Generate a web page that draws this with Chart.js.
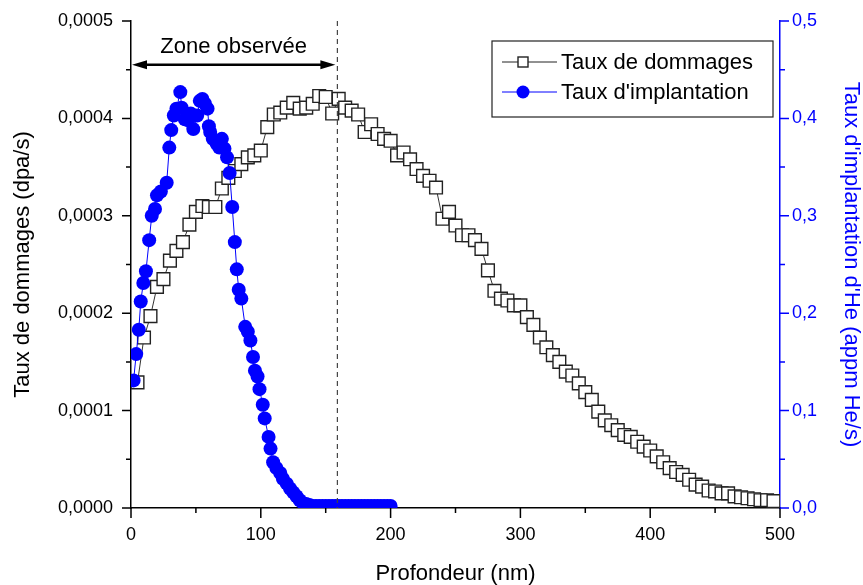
<!DOCTYPE html>
<html>
<head>
<meta charset="utf-8">
<script src="https://cdn.jsdelivr.net/npm/chart.js@4.4.1/dist/chart.umd.min.js"></script>
<style>
  html, body { margin: 0; padding: 0; background: #fff; }
  #wrap { width: 863px; height: 585px; }
</style>
</head>
<body>
<div id="wrap"><canvas id="chart"></canvas></div>
<script>
// profondeur (nm) et taux de dommages (dpa/s)
var depthDmg = [5,10,15,20,25,30,35,40,45,50,55,60,65,70,75,80,85,90,95,100,
    105,110,115,120,125,130,135,140,145,150,155,160,165,170,175,180,185,190,195,200,
    205,210,215,220,225,230,235,240,245,250,255,260,265,270,275,280,285,290,295,300,
    305,310,315,320,325,330,335,340,345,350,355,360,365,370,375,380,385,390,395,400,
    405,410,415,420,425,430,435,440,445,450,455,460,465,470,475,480,485,490,495];
var dmgRate = [0.000129,0.000175,0.000197,0.000227,0.000235,0.000254,0.000264,0.000273,0.000291,0.000304,
    0.000310,0.000309,0.000309,0.000328,0.000339,0.000346,0.000353,0.000360,0.000362,0.000367,
    0.000391,0.000404,0.000406,0.000411,0.000416,0.000410,0.000411,0.000415,0.000423,0.000422,
    0.000405,0.000420,0.000411,0.000408,0.000404,0.000386,0.000394,0.000384,0.000379,0.000377,
    0.000362,0.000365,0.000358,0.000348,0.000341,0.000336,0.000329,0.000297,0.000304,0.000290,
    0.000280,0.000280,0.000275,0.000266,0.000244,0.000223,0.000215,0.000213,0.000208,0.000208,
    0.000196,0.000188,0.000175,0.000165,0.000157,0.000150,0.000140,0.000136,0.000128,0.000119,
    0.000111,0.000099,0.000090,0.000085,0.000080,0.000075,0.000073,0.000068,0.000063,0.000059,
    0.000053,0.000047,0.000041,0.000037,0.000034,0.000029,0.000024,0.000022,0.000018,0.000017,
    0.000015,0.000015,0.000012,0.000011,0.000010,0.000009,0.000008,0.000008,0.000007];

// profondeur (nm) et taux d'implantation d'He (appm He/s)
var depthImp = [2,4,6,7.5,9.5,11.5,14,16,18.5,20,23,27.5,29.5,31,33,35,38,39,41.5,44,
    46,48,51,53,55,57,59,60,61,63,66,68,70,72,74,76,78,80,81.5,83,
    85,88,90,92,94,95.5,97.5,99,101.5,103,106,107.5,109.5,112,115,117,120,122.5,125,127.5,
    130,132.5,135,137.5,140,142.5,145,147.5,150,152.5,155,157.5,160,162.5,165,167.5,170,172.5,175,177.5,
    180,182.5,185,187.5,190,192.5,195,197.5,200];
var impRate = [0.131,0.158,0.183,0.212,0.231,0.243,0.275,0.300,0.307,0.321,0.325,0.334,0.370,0.388,0.403,0.410,0.427,0.411,0.399,0.398,
    0.405,0.389,0.403,0.418,0.420,0.415,0.410,0.392,0.386,0.379,0.374,0.370,0.379,0.369,0.360,0.344,0.309,0.273,0.245,0.224,
    0.215,0.186,0.181,0.172,0.155,0.141,0.135,0.122,0.106,0.092,0.073,0.061,0.047,0.041,0.036,0.030,0.025,0.020,0.016,0.012,
    0.008,0.005,0.004,0.003,0.002,0.002,0.002,0.002,0.002,0.002,0.002,0.002,0.002,0.002,0.002,0.002,0.002,0.002,0.002,0.002,
    0.002,0.002,0.002,0.002,0.002,0.002,0.002,0.002,0.002];

var zoneLimit = 159; // nm, limite de la zone observée

var FONT = 'Liberation Sans, Arial, sans-serif';

function pts(xs, ys) {
    return xs.map(function (x, i) { return {x: x, y: ys[i]}; });
}

function fixV(w) {
    return function (s) { s.width = w; s.paddingTop = 0; s.paddingBottom = 0; };
}

var tickMarks = {
    id: 'tickMarks',
    afterDraw: function (chart) {
        var c = chart.ctx, a = chart.chartArea;
        var sx = chart.scales.x, sl = chart.scales.yL, sr = chart.scales.yR;
        c.save();
        c.lineWidth = 1.5;
        c.strokeStyle = '#000';
        c.beginPath();
        for (var v = 0; v <= 500; v += 50) {
            var px = sx.getPixelForValue(v);
            c.moveTo(px, a.bottom);
            c.lineTo(px, a.bottom + (v % 100 === 0 ? 10 : 5));
        }
        for (var k = 0; k <= 10; k++) {
            var py = sl.getPixelForValue(k * 0.00005);
            c.moveTo(a.left, py);
            c.lineTo(a.left - (k % 2 === 0 ? 9 : 5), py);
        }
        c.stroke();
        c.strokeStyle = '#0000ff';
        c.beginPath();
        for (var j = 0; j <= 10; j++) {
            var pr = sr.getPixelForValue(j * 0.05);
            c.moveTo(a.right, pr);
            c.lineTo(a.right + (j % 2 === 0 ? 9 : 5), pr);
        }
        c.stroke();

        // zone observée
        var xz = sx.getPixelForValue(zoneLimit);
        c.strokeStyle = '#444';
        c.lineWidth = 1.2;
        c.setLineDash([5, 4]);
        c.beginPath();
        c.moveTo(xz, a.top);
        c.lineTo(xz, a.bottom);
        c.stroke();
        c.setLineDash([]);

        var ya = sl.getPixelForValue(0.000455);
        var x0 = sx.getPixelForValue(0) + 1, x1 = xz - 2;
        c.strokeStyle = '#000';
        c.fillStyle = '#000';
        c.lineWidth = 2.5;
        c.beginPath();
        c.moveTo(x0 + 10, ya);
        c.lineTo(x1 - 10, ya);
        c.stroke();
        c.beginPath();
        c.moveTo(x0, ya); c.lineTo(x0 + 15, ya - 4.5); c.lineTo(x0 + 15, ya + 4.5); c.closePath();
        c.moveTo(x1, ya); c.lineTo(x1 - 15, ya - 4.5); c.lineTo(x1 - 15, ya + 4.5); c.closePath();
        c.fill();
        c.font = '22px ' + FONT;
        c.textAlign = 'center';
        c.textBaseline = 'middle';
        c.fillText('Zone observée', (x0 + x1) / 2, sl.getPixelForValue(0.000473));

        // légende
        var lx = 492, ly = 41, lw = 281, lh = 76;
        c.fillStyle = '#fff';
        c.fillRect(lx, ly, lw, lh);
        c.strokeStyle = '#222';
        c.lineWidth = 1.2;
        c.strokeRect(lx, ly, lw, lh);
        var rows = [
            {y: 62, text: 'Taux de dommages', color: '#222', shape: 'rect'},
            {y: 92, text: "Taux d'implantation", color: '#0000ff', shape: 'circle'}
        ];
        rows.forEach(function (r) {
            c.strokeStyle = r.color;
            c.lineWidth = 1;
            c.beginPath();
            c.moveTo(502, r.y); c.lineTo(557, r.y);
            c.stroke();
            if (r.shape === 'rect') {
                c.fillStyle = '#fff';
                c.fillRect(518, r.y - 5, 10, 10);
                c.lineWidth = 1.4;
                c.strokeRect(518, r.y - 5, 10, 10);
            } else {
                c.fillStyle = '#0000ff';
                c.beginPath();
                c.arc(523, r.y, 6.5, 0, Math.PI * 2);
                c.fill();
            }
            c.fillStyle = '#000';
            c.textAlign = 'left';
            c.fillText(r.text, 561, r.y + 1);
        });
        c.restore();
    }
};

var ctx = document.getElementById('chart').getContext('2d');
var myChart = new Chart(ctx, {
    type: 'scatter',
    data: {
        datasets: [{
            label: "Taux d'implantation",
            data: pts(depthImp, impRate),
            yAxisID: 'yR',
            showLine: true,
            borderColor: '#0000ff',
            borderWidth: 1,
            backgroundColor: '#0000ff',
            pointBackgroundColor: '#0000ff',
            pointBorderColor: '#0000ff',
            pointRadius: 7,
            pointBorderWidth: 0,
            clip: 0,
            order: 0
        }, {
            label: 'Taux de dommages',
            data: pts(depthDmg, dmgRate),
            yAxisID: 'yL',
            showLine: true,
            borderColor: '#333',
            borderWidth: 1,
            pointStyle: 'rect',
            pointRadius: 9,
            pointBackgroundColor: '#fff',
            pointBorderColor: '#222',
            pointBorderWidth: 1.4,
            clip: 0,
            order: 1
        }]
    },
    options: {
        responsive: true,
        maintainAspectRatio: false,
        animation: false,
        events: [],
        layout: { padding: { top: 21, left: 0, right: 0, bottom: 0 } },
        plugins: { legend: { display: false }, tooltip: { enabled: false } },
        scales: {
            x: {
                type: 'linear', min: 0, max: 500,
                afterFit: function (s) { s.height = 77; s.paddingLeft = 0; s.paddingRight = 0; },
                grid: { display: false, drawTicks: false },
                border: { display: true, color: '#000', width: 1.5 },
                ticks: { stepSize: 100, padding: 16, color: '#000', font: { family: FONT, size: 18 } },
                title: { display: true, text: 'Profondeur (nm)', color: '#000',
                    font: { family: FONT, size: 22, lineHeight: 1 }, padding: { top: 0, bottom: 0 } }
            },
            yL: {
                position: 'left', min: 0, max: 0.0005,
                afterFit: fixV(131),
                grid: { display: false, drawTicks: false },
                border: { display: true, color: '#000', width: 1.5 },
                ticks: { stepSize: 0.0001, padding: 18, color: '#000', font: { family: FONT, size: 18 },
                    callback: function (v) { return v.toFixed(4).replace('.', ','); } },
                title: { display: true, text: 'Taux de dommages (dpa/s)', color: '#000',
                    font: { family: FONT, size: 22, lineHeight: 1 }, padding: { top: 12, bottom: 0 } }
            },
            yR: {
                position: 'right', min: 0, max: 0.5,
                afterFit: fixV(83),
                grid: { display: false, drawTicks: false },
                border: { display: true, color: '#0000ff', width: 1.5 },
                ticks: { stepSize: 0.1, padding: 12, color: '#0000ff', font: { family: FONT, size: 18 },
                    callback: function (v) { return v.toFixed(1).replace('.', ','); } },
                title: { display: true, text: "Taux d'implantation d'He (appm He/s)", color: '#0000ff',
                    font: { family: FONT, size: 22, lineHeight: 1 }, padding: { top: 1, bottom: 0 } }
            }
        }
    },
    plugins: [tickMarks]
});
</script>
</body>
</html>
